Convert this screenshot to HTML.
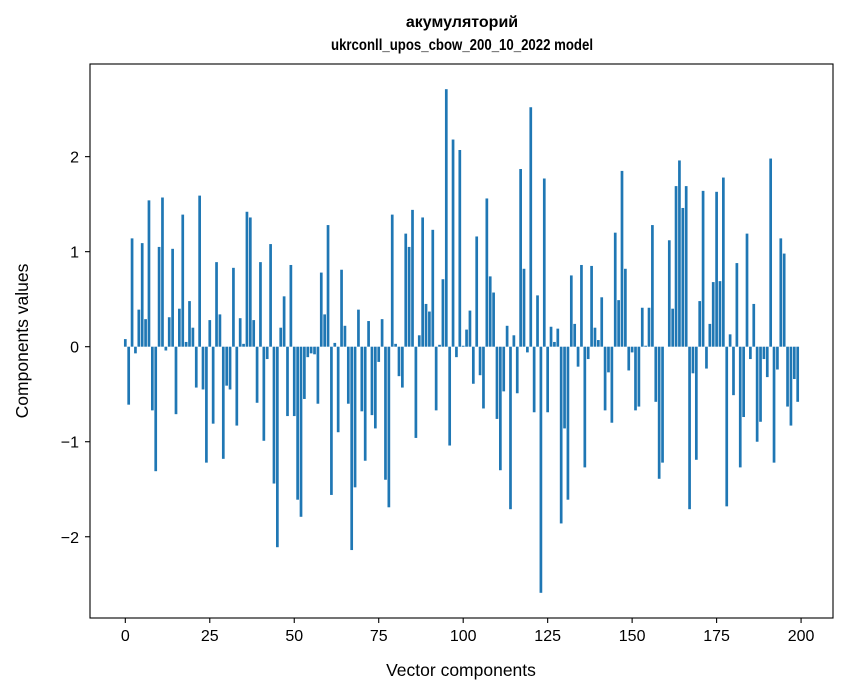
<!DOCTYPE html>
<html><head><meta charset="utf-8"><style>
body{margin:0;background:#fff;}
svg{display:block;font-family:"Liberation Sans",sans-serif;}
</style></head><body>
<svg id="chart" width="847" height="696" viewBox="0 0 847 696">
<rect width="847" height="696" fill="#fff"/>
<text x="462" y="27" text-anchor="middle" font-weight="bold" font-size="16">акумуляторий</text>
<text x="462" y="50" text-anchor="middle" font-weight="bold" font-size="16" textLength="262" lengthAdjust="spacingAndGlyphs">ukrconll_upos_cbow_200_10_2022 model</text>
<g id="bars"></g>
<g id="axes"></g>
<text x="461" y="676" text-anchor="middle" font-size="17.5">Vector components</text>
<text transform="translate(28,341) rotate(-90)" text-anchor="middle" font-size="17.5">Components values</text>
</svg>
<script>
const values = [0.08,-0.61,1.14,-0.07,0.39,1.09,0.29,1.54,-0.67,-1.31,1.05,1.57,-0.04,0.31,1.03,-0.71,0.40,1.39,0.05,0.48,0.20,-0.43,1.59,-0.45,-1.22,
0.28,-0.81,0.89,0.34,-1.18,-0.41,-0.45,0.83,-0.83,0.30,0.03,1.42,1.36,0.28,-0.59,0.89,-0.99,-0.13,1.08,-1.44,-2.11,0.20,0.53,-0.73,0.86,
-0.73,-1.61,-1.79,-0.55,-0.11,-0.07,-0.08,-0.60,0.78,0.34,1.28,-1.56,0.04,-0.90,0.81,0.22,-0.60,-2.14,-1.48,0.39,-0.68,-1.20,0.27,-0.72,-0.86,
-0.16,0.29,-1.40,-1.69,1.39,0.03,-0.31,-0.43,1.19,1.05,1.44,-0.96,0.12,1.36,0.45,0.37,1.23,-0.67,0.02,0.71,2.71,-1.04,2.18,-0.11,2.07,
0.01,0.18,0.38,-0.39,1.16,-0.30,-0.65,1.56,0.74,0.57,-0.76,-1.30,-0.47,0.22,-1.71,0.12,-0.49,1.87,0.82,-0.06,2.52,-0.69,0.54,-2.59,1.77,
-0.69,0.21,0.05,0.19,-1.86,-0.86,-1.61,0.75,0.24,-0.21,0.86,-1.27,-0.13,0.85,0.20,0.07,0.52,-0.67,-0.27,-0.80,1.20,0.49,1.85,0.82,-0.25,
-0.06,-0.67,-0.63,0.41,0.01,0.41,1.28,-0.58,-1.39,-1.22,0.00,1.12,0.40,1.69,1.96,1.46,1.69,-1.71,-0.28,-1.19,0.48,1.64,-0.23,0.24,0.68,
1.63,0.69,1.78,-1.68,0.13,-0.51,0.88,-1.27,-0.74,1.19,-0.13,0.45,-1.00,-0.79,-0.13,-0.32,1.98,-1.22,-0.24,1.14,0.98,-0.63,-0.83,-0.34,-0.58];
const xTicks = [0,25,50,75,100,125,150,175,200];
const yTicks = [-2,-1,0,1,2];
const yTickLabels = ["\u22122","\u22121","0","1","2"];

const NS = "http://www.w3.org/2000/svg";
const PL = 90, PR = 833, PT = 64, PB = 618;
const xMin = -10.45, xMax = 209.45, yMin = -2.855, yMax = 2.975;
function xs(v){ return PL + (v - xMin) / (xMax - xMin) * (PR - PL); }
function ys(v){ return PB - (v - yMin) / (yMax - yMin) * (PB - PT); }
function mk(tag, attrs){ const e = document.createElementNS(NS, tag); for (const k in attrs) e.setAttribute(k, attrs[k]); return e; }

const bars = document.getElementById('bars');
values.forEach((v, i) => {
  const x0 = xs(i - 0.4), x1 = xs(i + 0.4);
  const y0 = ys(Math.max(v, 0)), y1 = ys(Math.min(v, 0));
  const r = mk('rect', {x: x0, y: y0, width: x1 - x0, height: Math.max(y1 - y0, 0), fill: '#1f77b4'});
  
  
  bars.appendChild(r);
});

const axes = document.getElementById('axes');
const frame = mk('rect', {x: PL, y: PT, width: PR - PL, height: PB - PT, fill: 'none', stroke: '#000', 'stroke-width': 1.1});


axes.appendChild(frame);
xTicks.forEach(t => {
  const x = xs(t);
  const l = mk('line', {x1: x, x2: x, y1: PB, y2: PB + 5, stroke: '#000', 'stroke-width': 1.1});
  
  
  axes.appendChild(l);
  const tx = mk('text', {x: x, y: PB + 23, 'text-anchor': 'middle', 'font-size': 16});
  tx.textContent = String(t);
  
  
  axes.appendChild(tx);
});
yTicks.forEach((t, i) => {
  const y = ys(t);
  const l = mk('line', {x1: PL - 5, x2: PL, y1: y, y2: y, stroke: '#000', 'stroke-width': 1.1});
  
  
  axes.appendChild(l);
  const tx = mk('text', {x: PL - 11, y: y + 6, 'text-anchor': 'end', 'font-size': 16});
  tx.textContent = yTickLabels[i];
  
  
  axes.appendChild(tx);
});
</script>
</body></html>
